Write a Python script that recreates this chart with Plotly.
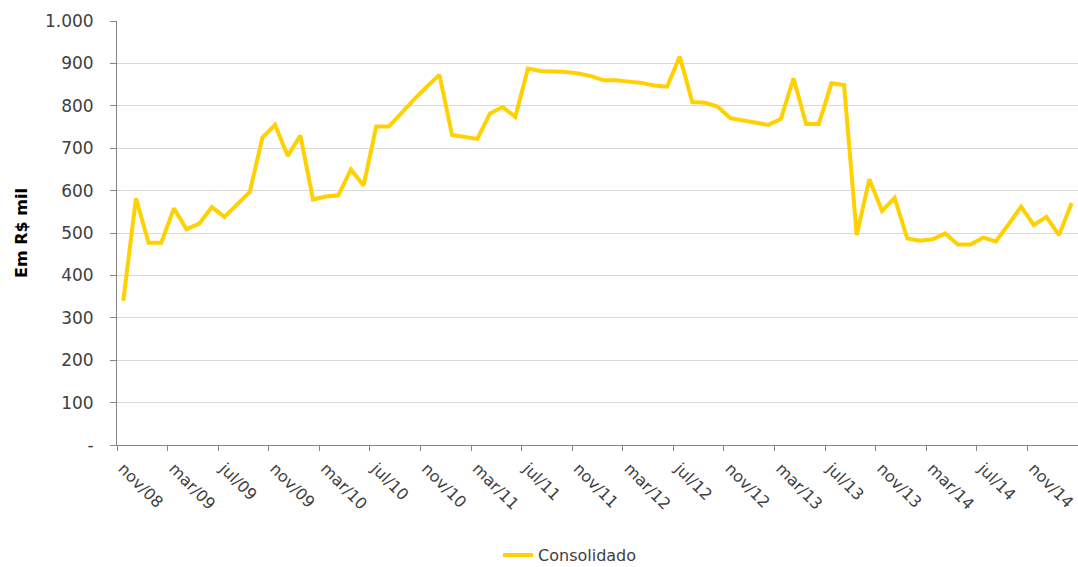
import plotly.graph_objects as go

tick_labels = ["nov/08", "mar/09", "jul/09", "nov/09", "mar/10", "jul/10", "nov/10",
               "mar/11", "jul/11", "nov/11", "mar/12", "jul/12", "nov/12", "mar/13",
               "jul/13", "nov/13", "mar/14", "jul/14", "nov/14"]

consolidado = [340, 582, 477, 477, 558, 509, 522, 561, 538, 566,
               597, 725, 755, 682, 730, 579, 586, 589, 650, 612,
               751, 751, 784, 815, 845, 873, 731, 727, 722, 782,
               797, 774, 888, 882, 882, 880, 876, 870, 860, 860,
               857, 854, 848, 845, 916, 809, 807, 798, 771, 765,
               759, 755, 769, 865, 757, 757, 853, 849, 495, 627,
               552, 583, 487, 482, 485, 499, 473, 473, 489, 480,
               520, 562, 519, 538, 495, 571]

y_ticks = [0, 100, 200, 300, 400, 500, 600, 700, 800, 900, 1000]
y_tick_text = ["-", "100", "200", "300", "400", "500", "600", "700", "800", "900", "1.000"]

x = list(range(len(consolidado)))
# labels sit on the category boundaries every 4 months (Excel style)
label_pos = [i * 4 - 0.5 for i in range(len(tick_labels))]

FONT = "DejaVu Sans"
TXT = "#404040"

fig = go.Figure()
fig.add_trace(go.Scatter(
    x=x, y=consolidado, mode="lines", name="Consolidado",
    line=dict(color="#FFD100", width=4),
))

fig.update_layout(
    width=1078, height=567,
    margin=dict(l=117, r=0, t=21, b=122),
    paper_bgcolor="white", plot_bgcolor="white",
    font=dict(family=FONT, size=16, color=TXT),
    showlegend=True,
    legend=dict(orientation="h", xref="container", yref="container",
                x=0.5288, xanchor="center", y=0.021, yanchor="middle",
                font=dict(family=FONT, size=16, color=TXT)),
    xaxis=dict(
        range=[-0.5, len(consolidado) - 0.5],
        tickvals=label_pos, ticktext=tick_labels, tickangle=45,
        ticks="outside", ticklen=5, tickcolor="#868686",
        showgrid=False, zeroline=False, automargin=False,
        showline=True, linecolor="#868686", linewidth=1,
        ticklabelstandoff=2, ticklabelshift=6,
        ticklabeloverflow="allow",
        tickfont=dict(family=FONT, size=16, color=TXT),
    ),
    yaxis=dict(
        range=[0, 1000], tickvals=y_ticks, ticktext=y_tick_text,
        ticks="outside", ticklen=6, tickcolor="#868686",
        showgrid=True, gridcolor="#D9D9D9", gridwidth=1,
        showline=True, linecolor="#868686", linewidth=1, zeroline=False,
        automargin=False,
        tickfont=dict(family=FONT, size=17, color=TXT),
        ticklabelstandoff=13,
    ),
)

fig.add_annotation(
    text="<b>Em R$ mil</b>", xref="paper", yref="paper",
    x=-0.1, y=0.5, xanchor="center", yanchor="middle",
    textangle=-90, showarrow=False,
    font=dict(family=FONT, size=16, color="#000000"),
)

fig.write_html("out.html", config={"displayModeBar": False},
               post_script="document.body.style.margin='0px';")
